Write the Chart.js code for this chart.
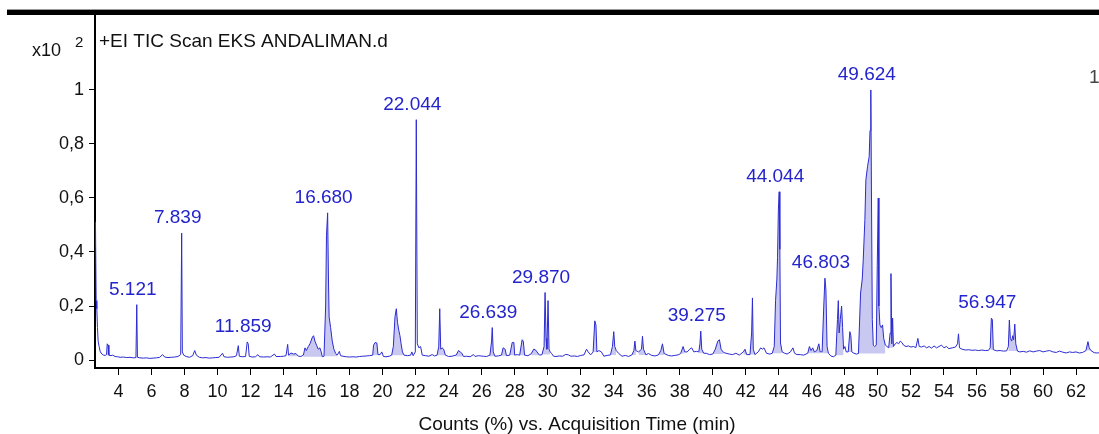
<!DOCTYPE html>
<html>
<head>
<meta charset="utf-8">
<script src="https://cdn.jsdelivr.net/npm/chart.js@4"></script>
<style>
  html, body { margin: 0; padding: 0; background: #fff; }
  #tic { display: block; }
</style>
</head>
<body>
<canvas id="tic" width="1099" height="434"></canvas>
<script>
// TIC chromatogram, relative counts (1 = 100 %) vs retention time (min)
const tic = [
  [2.58,0.51],[2.60,0.42],[2.62,0.50],[2.65,0.22],[2.69,0.19],[2.73,0.12],[2.77,0.07],[2.83,0.05],[2.9,0.03],[3.0,0.022],
  [3.1,0.018],[3.2,0.017],[3.28,0.02],[3.32,0.06],[3.38,0.055],[3.42,0.018],[3.55,0.016],[3.65,0.018],[3.8,0.013],[3.95,0.012],
  [4.1,0.01],[4.3,0.011],[4.5,0.009],[4.7,0.01],[4.9,0.008],[5.06,0.009],[5.11,0.205],[5.15,0.01],[5.3,0.008],[5.5,0.007],
  [5.7,0.008],[5.9,0.006],[6.1,0.007],[6.3,0.008],[6.5,0.01],[6.67,0.02],[6.8,0.011],[7.0,0.009],[7.2,0.01],[7.4,0.011],
  [7.6,0.013],[7.77,0.02],[7.83,0.47],[7.87,0.03],[7.95,0.018],[8.1,0.013],[8.3,0.01],[8.5,0.016],[8.62,0.035],[8.72,0.018],
  [8.9,0.01],[9.1,0.008],[9.3,0.009],[9.5,0.007],[9.7,0.008],[9.9,0.009],[10.1,0.01],[10.3,0.025],[10.4,0.012],[10.6,0.01],
  [10.8,0.011],[11.0,0.012],[11.15,0.016],[11.26,0.053],[11.32,0.014],[11.5,0.012],[11.7,0.013],[11.8,0.067],[11.86,0.06],[11.92,0.014],
  [12.1,0.011],[12.3,0.012],[12.45,0.02],[12.55,0.012],[12.8,0.011],[13.0,0.012],[13.2,0.011],[13.45,0.022],[13.55,0.013],[13.8,0.013],
  [14.0,0.014],[14.15,0.016],[14.25,0.058],[14.3,0.018],[14.45,0.026],[14.6,0.022],[14.75,0.024],[14.9,0.014],[15.05,0.013],[15.2,0.018],
  [15.3,0.045],[15.38,0.035],[15.5,0.05],[15.6,0.06],[15.75,0.085],[15.82,0.09],[15.9,0.07],[16.0,0.055],[16.1,0.04],[16.2,0.045],
  [16.28,0.03],[16.35,0.012],[16.45,0.014],[16.55,0.2],[16.6,0.46],[16.67,0.545],[16.72,0.3],[16.76,0.16],[16.85,0.12],[16.95,0.07],
  [17.05,0.04],[17.15,0.025],[17.25,0.018],[17.38,0.032],[17.45,0.016],[17.6,0.014],[17.8,0.012],[18.0,0.011],[18.2,0.012],[18.4,0.011],
  [18.6,0.013],[18.8,0.014],[19.0,0.015],[19.2,0.016],[19.4,0.018],[19.45,0.055],[19.55,0.065],[19.65,0.063],[19.72,0.02],[19.85,0.02],
  [19.95,0.03],[20.05,0.013],[20.2,0.012],[20.4,0.014],[20.55,0.018],[20.65,0.05],[20.75,0.16],[20.83,0.19],[20.9,0.14],[20.98,0.11],
  [21.05,0.09],[21.12,0.06],[21.2,0.03],[21.3,0.018],[21.5,0.016],[21.7,0.018],[21.77,0.03],[21.85,0.016],[21.98,0.03],[22.04,0.89],
  [22.1,0.06],[22.2,0.045],[22.3,0.05],[22.4,0.018],[22.6,0.016],[22.8,0.014],[23.0,0.02],[23.15,0.015],[23.3,0.018],[23.4,0.05],
  [23.46,0.19],[23.52,0.04],[23.6,0.045],[23.7,0.04],[23.8,0.018],[24.0,0.013],[24.2,0.014],[24.45,0.018],[24.6,0.035],[24.7,0.03],
  [24.8,0.025],[24.9,0.013],[25.1,0.014],[25.3,0.012],[25.5,0.02],[25.6,0.013],[25.8,0.016],[25.95,0.015],[26.1,0.014],[26.3,0.013],
  [26.5,0.018],[26.6,0.07],[26.64,0.12],[26.7,0.03],[26.8,0.014],[27.0,0.015],[27.2,0.018],[27.3,0.045],[27.42,0.04],[27.5,0.016],
  [27.7,0.018],[27.85,0.065],[27.95,0.065],[28.0,0.018],[28.15,0.02],[28.3,0.018],[28.45,0.075],[28.52,0.07],[28.6,0.018],[28.8,0.016],
  [29.0,0.023],[29.15,0.04],[29.25,0.038],[29.35,0.03],[29.5,0.018],[29.65,0.02],[29.78,0.05],[29.84,0.25],[29.9,0.08],[29.95,0.04],
  [30.02,0.22],[30.08,0.04],[30.15,0.03],[30.25,0.023],[30.35,0.014],[30.5,0.013],[30.7,0.015],[30.9,0.014],[31.1,0.021],[31.25,0.019],
  [31.4,0.014],[31.6,0.015],[31.8,0.013],[32.0,0.017],[32.2,0.019],[32.35,0.04],[32.45,0.03],[32.6,0.019],[32.75,0.03],[32.85,0.145],
  [32.92,0.13],[32.98,0.03],[33.1,0.035],[33.25,0.03],[33.4,0.014],[33.6,0.017],[33.8,0.019],[33.92,0.05],[34.0,0.105],[34.06,0.05],
  [34.15,0.035],[34.3,0.024],[34.5,0.014],[34.7,0.017],[34.9,0.013],[35.1,0.019],[35.22,0.035],[35.28,0.07],[35.34,0.035],[35.5,0.03],
  [35.68,0.04],[35.74,0.088],[35.8,0.04],[35.95,0.019],[36.1,0.024],[36.3,0.017],[36.5,0.015],[36.7,0.019],[36.85,0.035],[36.95,0.06],
  [37.05,0.024],[37.3,0.017],[37.5,0.015],[37.7,0.017],[37.9,0.019],[38.05,0.024],[38.2,0.05],[38.3,0.03],[38.45,0.03],[38.6,0.04],
  [38.72,0.045],[38.85,0.03],[39.0,0.032],[39.15,0.03],[39.22,0.06],[39.27,0.107],[39.33,0.04],[39.45,0.025],[39.6,0.025],[39.8,0.02],
  [40.0,0.022],[40.15,0.04],[40.3,0.07],[40.4,0.075],[40.5,0.04],[40.65,0.028],[40.8,0.025],[41.0,0.022],[41.2,0.02],[41.4,0.025],
  [41.6,0.018],[41.85,0.03],[41.95,0.04],[42.05,0.02],[42.25,0.02],[42.35,0.1],[42.4,0.23],[42.45,0.04],[42.55,0.02],[42.75,0.03],
  [42.9,0.045],[43.0,0.04],[43.1,0.045],[43.25,0.025],[43.45,0.022],[43.6,0.025],[43.72,0.05],[43.8,0.22],[43.88,0.3],[43.92,0.38],
  [43.97,0.555],[44.02,0.623],[44.06,0.41],[44.1,0.063],[44.2,0.03],[44.35,0.025],[44.5,0.022],[44.7,0.03],[44.85,0.045],[44.95,0.025],
  [45.1,0.02],[45.3,0.02],[45.5,0.018],[45.75,0.025],[45.85,0.05],[45.95,0.035],[46.05,0.045],[46.15,0.03],[46.3,0.035],[46.42,0.06],
  [46.5,0.03],[46.62,0.03],[46.72,0.2],[46.79,0.303],[46.85,0.26],[46.92,0.05],[47.0,0.025],[47.15,0.015],[47.3,0.012],[47.45,0.018],
  [47.55,0.15],[47.6,0.22],[47.65,0.1],[47.72,0.15],[47.8,0.2],[47.86,0.12],[47.92,0.04],[48.0,0.05],[48.08,0.03],[48.2,0.03],
  [48.3,0.105],[48.36,0.09],[48.42,0.03],[48.55,0.025],[48.7,0.022],[48.82,0.024],[48.95,0.248],[49.05,0.3],[49.11,0.37],[49.21,0.52],
  [49.27,0.667],[49.37,0.716],[49.47,0.753],[49.52,0.85],[49.57,1.0],[49.61,0.6],[49.66,0.15],[49.72,0.055],[49.8,0.05],[49.9,0.055],
  [49.96,0.35],[50.02,0.6],[50.06,0.2],[50.12,0.13],[50.2,0.12],[50.28,0.13],[50.35,0.08],[50.45,0.055],[50.55,0.05],[50.65,0.045],
  [50.74,0.1],[50.79,0.32],[50.84,0.06],[50.89,0.155],[50.94,0.05],[51.05,0.06],[51.15,0.065],[51.25,0.06],[51.35,0.07],[51.45,0.065],
  [51.55,0.055],[51.7,0.05],[51.85,0.052],[52.0,0.048],[52.15,0.05],[52.3,0.046],[52.42,0.08],[52.5,0.05],[52.65,0.048],[52.8,0.052],
  [52.95,0.045],[53.1,0.05],[53.25,0.044],[53.4,0.052],[53.55,0.045],[53.7,0.05],[53.85,0.055],[54.0,0.045],[54.15,0.05],[54.3,0.042],
  [54.5,0.045],[54.7,0.048],[54.82,0.06],[54.88,0.097],[54.94,0.045],[55.1,0.04],[55.3,0.037],[55.5,0.038],[55.7,0.036],[55.9,0.037],
  [56.1,0.035],[56.3,0.037],[56.5,0.035],[56.7,0.036],[56.8,0.045],[56.87,0.155],[56.93,0.15],[56.99,0.038],[57.2,0.034],[57.4,0.035],
  [57.6,0.033],[57.8,0.034],[57.9,0.05],[57.96,0.148],[58.02,0.08],[58.1,0.07],[58.16,0.09],[58.22,0.075],[58.29,0.133],[58.35,0.06],
  [58.45,0.033],[58.6,0.03],[58.8,0.032],[59.0,0.029],[59.2,0.034],[59.4,0.03],[59.6,0.033],[59.8,0.035],[60.0,0.03],[60.2,0.033],
  [60.4,0.035],[60.6,0.03],[60.8,0.028],[61.0,0.033],[61.2,0.029],[61.4,0.026],[61.6,0.03],[61.8,0.028],[62.0,0.03],[62.2,0.026],
  [62.4,0.028],[62.6,0.035],[62.72,0.068],[62.8,0.045],[62.9,0.035],[63.1,0.027],[63.3,0.026],[63.39,0.027]
];

// integrated peaks (shaded), start/end retention time
const integratedRanges = [
  [3.28,3.42],[14.3,14.9],[15.2,16.35],[16.45,17.25],[19.4,19.72],[20.55,21.3],[23.3,23.8],[24.45,24.9],
  [26.5,26.8],[27.2,27.5],[27.7,28.0],[28.3,28.6],[29.0,29.5],[29.65,30.15],[32.75,32.98],[33.8,34.15],
  [35.1,35.34],[35.5,35.95],[36.7,37.05],[38.05,38.3],[39.15,39.45],[40.0,40.65],[41.85,42.05],[42.25,42.55],
  [43.6,44.2],[45.75,46.5],[46.62,47.0],[47.45,47.92],[48.2,48.42],[48.82,50.45],[50.65,50.94],[56.8,56.99],
  [57.9,58.45],[62.6,62.9]
];

const peakLabels = ['5.121','7.839','11.859','16.680','22.044','26.639','29.870','39.275','44.044','46.803','49.624','56.947'];

const xTicks = [4,6,8,10,12,14,16,18,20,22,24,26,28,30,32,34,36,38,40,42,44,46,48,50,52,54,56,58,60,62];
const yTicks = [0, 0.2, 0.4, 0.6, 0.8, 1];
const yTickLabels = ['0', '0,2', '0,4', '0,6', '0,8', '1'];

const FONT = '"Liberation Sans", Arial, sans-serif';
const LINE = '#2b2bd0';
const SHADE = 'rgba(110,110,215,0.38)';
const LABEL = '#2424cc';

const points = tic.map(p => ({ x: p[0], y: p[1] }));

// one shaded dataset per integrated peak
const shadeSets = integratedRanges.map(r => {
  const seg = points.filter(p => p.x >= r[0] - 1e-6 && p.x <= r[1] + 1e-6);
  const base = Math.min(seg[0].y, seg[seg.length - 1].y);
  return {
    data: seg,
    borderWidth: 0,
    pointRadius: 0,
    backgroundColor: SHADE,
    fill: { value: base }
  };
});

const decorations = {
  id: 'decorations',
  afterDraw(chart) {
    const ctx = chart.ctx;
    const xs = chart.scales.x, ys = chart.scales.y;
    ctx.save();
    // heavy frame line on top
    ctx.fillStyle = '#9a9a9a';
    ctx.fillRect(7, 9, 1092, 1);
    ctx.fillStyle = '#000';
    ctx.fillRect(7, 10, 1092, 5);

    ctx.fillStyle = '#111';
    ctx.textBaseline = 'middle';
    ctx.textAlign = 'left';
    ctx.font = '19px ' + FONT;
    ctx.fillText('+EI TIC Scan EKS ANDALIMAN.d', 99, 42);
    ctx.font = '18px ' + FONT;
    ctx.fillText('x10', 32, 51);
    ctx.font = '15px ' + FONT;
    ctx.fillText('2', 75, 43);
    ctx.font = '19px ' + FONT;
    ctx.fillStyle = '#444';
    ctx.fillText('1', 1089, 78);

    ctx.fillStyle = '#111';
    ctx.textAlign = 'center';
    ctx.fillText('Counts (%) vs. Acquisition Time (min)', 577, 425);

    // peak retention time labels
    ctx.fillStyle = LABEL;
    ctx.font = '19px ' + FONT;
    peakLabels.forEach(lbl => {
      const rt = parseFloat(lbl);
      let top = null;
      points.forEach(p => {
        if (Math.abs(p.x - rt) < 0.1 && (!top || p.y > top.y)) top = p;
      });
      ctx.fillText(lbl, xs.getPixelForValue(top.x) - 4, ys.getPixelForValue(top.y) - 15);
    });
    ctx.restore();
  }
};

new Chart(document.getElementById('tic'), {
  type: 'line',
  data: {
    datasets: [{
      data: points,
      borderColor: LINE,
      borderWidth: 1,
      pointRadius: 0,
      fill: false,
      tension: 0
    }].concat(shadeSets)
  },
  options: {
    responsive: false,
    animation: false,
    devicePixelRatio: 1,
    layout: { padding: { top: 16, right: 0, left: 0, bottom: 0 } },
    plugins: { legend: { display: false }, tooltip: { enabled: false } },
    scales: {
      x: {
        type: 'linear',
        min: 2.58,
        max: 63.39,
        afterFit: s => { s.height = 66; },
        afterBuildTicks: s => { s.ticks = xTicks.map(v => ({ value: v })); },
        grid: { drawOnChartArea: false, drawTicks: true, tickLength: 7, color: '#000' },
        border: { display: true, color: '#000', width: 2 },
        ticks: {
          font: { family: FONT, size: 18 },
          color: '#111',
          padding: 6,
          maxRotation: 0,
          autoSkip: false,
          callback: v => String(v)
        }
      },
      y: {
        min: -0.0296,
        max: 1.274,
        afterFit: s => { s.width = 95; },
        afterBuildTicks: s => { s.ticks = yTicks.map(v => ({ value: v })); },
        grid: { drawOnChartArea: false, drawTicks: true, tickLength: 6, color: '#000' },
        border: { display: true, color: '#000', width: 2 },
        ticks: {
          font: { family: FONT, size: 18 },
          color: '#111',
          padding: 5,
          autoSkip: false,
          callback: v => yTickLabels[yTicks.indexOf(v)]
        }
      }
    }
  },
  plugins: [decorations]
});
</script>
</body>
</html>
